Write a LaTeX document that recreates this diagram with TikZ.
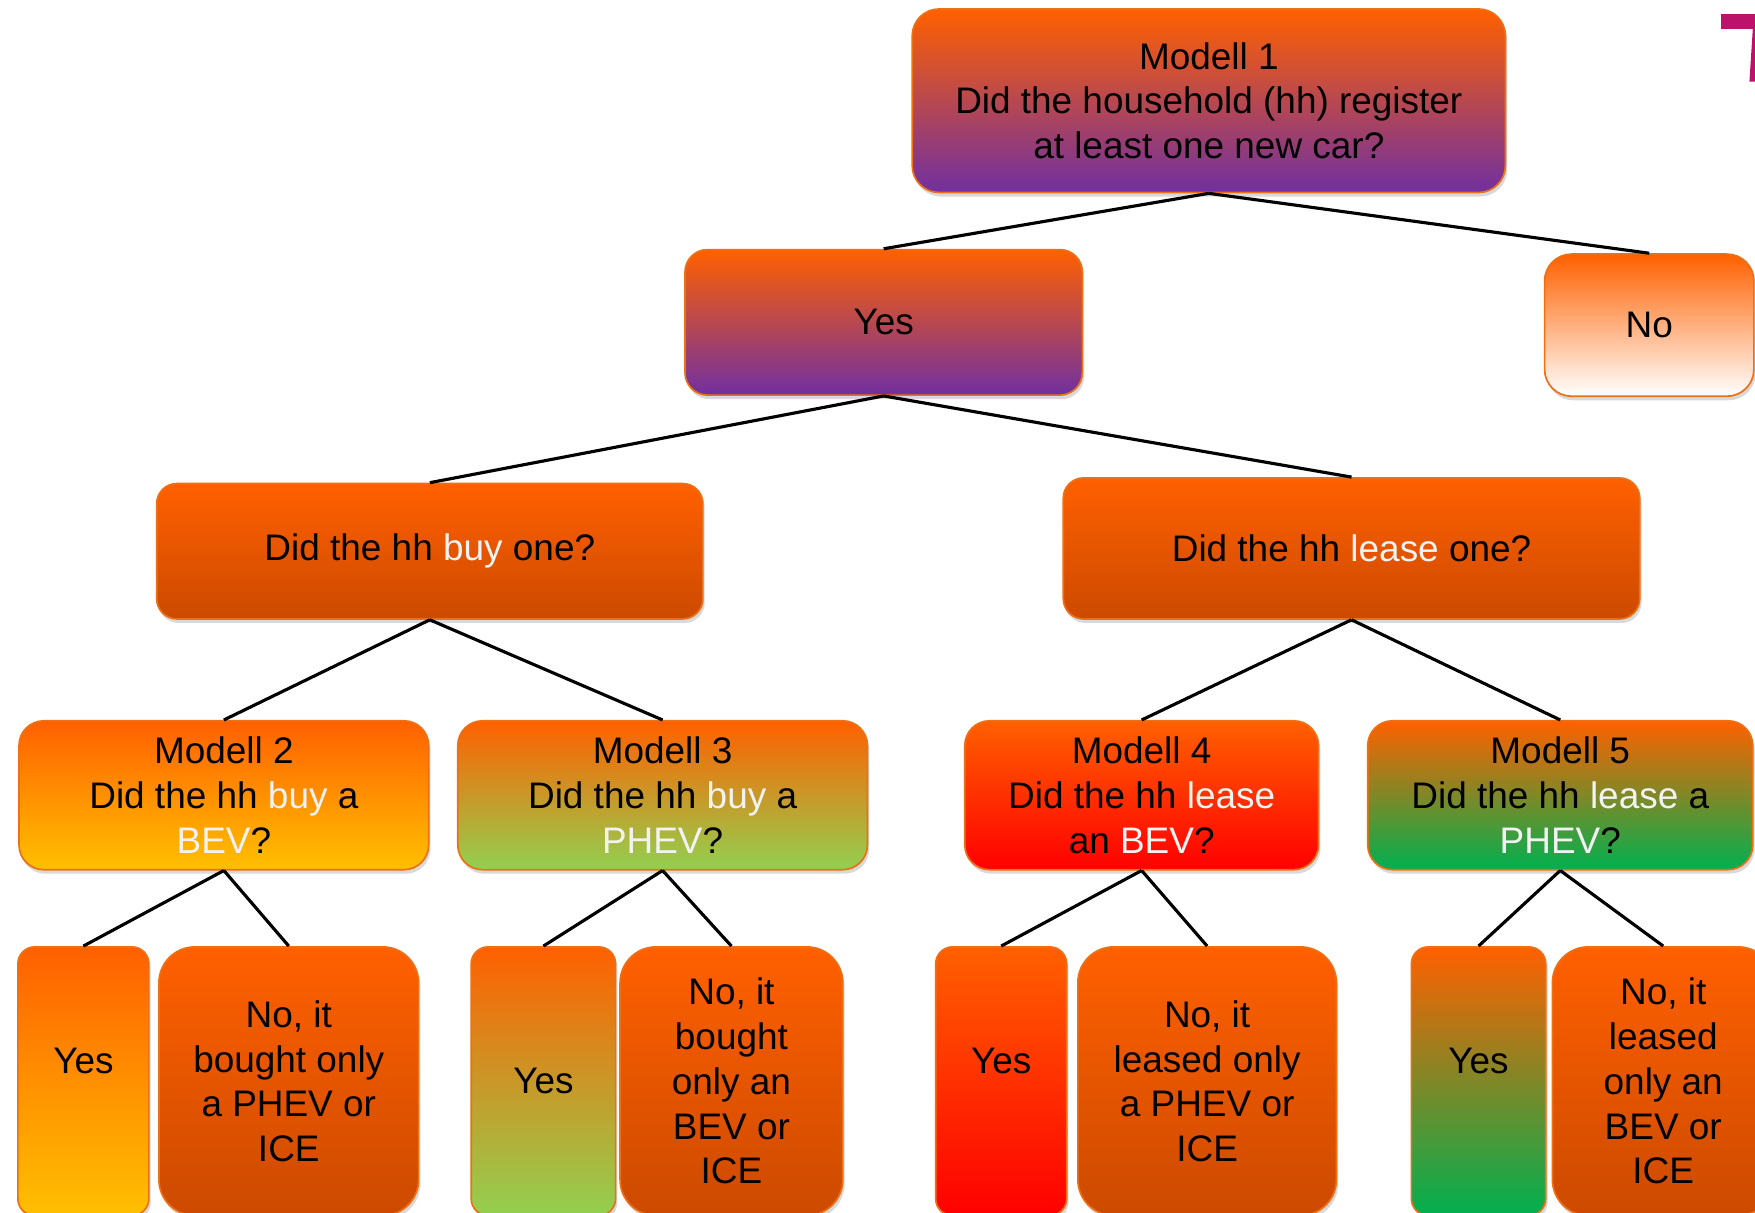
\documentclass[tikz,border=0pt]{standalone}
\usepackage{fontspec}
\setmainfont{Liberation Sans}
\usetikzlibrary{shadows}
\definecolor{org}{RGB}{255,96,0}
\definecolor{dorg}{RGB}{204,74,0}
\definecolor{bord}{RGB}{238,112,20}
\definecolor{purp}{RGB}{112,48,160}
\definecolor{pmid}{RGB}{195,75,70}
\definecolor{gold}{RGB}{255,192,0}
\definecolor{lgrn}{RGB}{146,208,80}
\definecolor{grn}{RGB}{0,176,80}
\definecolor{rd}{RGB}{255,0,0}
\definecolor{wt}{RGB}{242,242,242}
\definecolor{mag}{RGB}{188,18,108}
\begin{document}
\begin{tikzpicture}[x=0.5pt,y=-0.5pt,
  bx/.style={draw=bord, line width=0.75pt, align=center, inner sep=0pt,
    font=\fontsize{16.5}{20}\selectfont,
    drop shadow={opacity=0.3, shadow xshift=0.8pt, shadow yshift=-1.8pt}},
  purpbox/.style={bx, top color=org, middle color=pmid, bottom color=purp},
  darkbox/.style={bx, top color=org, bottom color=dorg},
  leaf/.style={minimum height=120pt},
  upyes/.style={text depth=18pt},
  cn/.style={line width=1.4pt, black},
]
\useasboundingbox (0,0) rectangle (1568,1083);
\clip (0,0) rectangle (1568,1083);

% top glyph
\fill[mag] (1538,12.5) rectangle (1572,26);
\fill[mag] (1566,26) -- (1580,26) -- (1570,73) -- (1563,73) -- cycle;

% level 0-1
\node[purpbox, minimum width=265pt, minimum height=82pt, rounded corners=12pt] (m1) at (1080,90)
  {Modell 1\\Did the household (hh) register\\at least one new car?};
\node[purpbox, minimum width=177.5pt, minimum height=65pt, rounded corners=10pt] (yes) at (789.5,288) {Yes};
\node[bx, top color=org, bottom color=white, minimum width=93.5pt, minimum height=63.5pt, rounded corners=12pt] (no) at (1473.5,290.5) {No};

% level 2
\node[darkbox, minimum width=244pt, minimum height=60.5pt, rounded corners=9pt] (buy) at (384,492.5)
  {Did the hh \textcolor{wt}{buy} one?};
\node[darkbox, minimum width=257.5pt, minimum height=63pt, rounded corners=9pt] (lease) at (1207.5,490)
  {Did the hh \textcolor{wt}{lease} one?};

% level 3
\node[bx, top color=org, bottom color=gold, minimum width=183pt, minimum height=66.5pt, rounded corners=11pt] (m2) at (200,710.5)
  {Modell 2\\Did the hh \textcolor{wt}{buy} a\\\textcolor{wt}{BEV}?};
\node[bx, top color=org, bottom color=lgrn, minimum width=183pt, minimum height=66.5pt, rounded corners=11pt] (m3) at (592,710.5)
  {Modell 3\\Did the hh \textcolor{wt}{buy} a\\\textcolor{wt}{PHEV}?};
\node[bx, top color=org, bottom color=rd, minimum width=158pt, minimum height=66.5pt, rounded corners=11pt] (m4) at (1020,710.5)
  {Modell 4\\Did the hh \textcolor{wt}{lease}\\an \textcolor{wt}{BEV}?};
\node[bx, top color=org, bottom color=grn, minimum width=172pt, minimum height=66.5pt, rounded corners=11pt] (m5) at (1394,710.5)
  {Modell 5\\Did the hh \textcolor{wt}{lease} a\\\textcolor{wt}{PHEV}?};

% leaves
\node[bx, leaf, upyes, top color=org, bottom color=gold, minimum width=58.5pt, rounded corners=7.5pt] (y2) at (74.5,966) {Yes};
\node[darkbox, leaf, minimum width=116pt, rounded corners=16pt] (n2) at (258,966)
  {No, it\\bought only\\a PHEV or\\ICE};
\node[bx, leaf, top color=org, bottom color=lgrn, minimum width=64.5pt, rounded corners=7.5pt] (y3) at (485.5,966) {Yes};
\node[darkbox, leaf, minimum width=99.5pt, rounded corners=16pt] (n3) at (653.5,966)
  {No, it\\bought\\only an\\BEV or\\ICE};
\node[bx, leaf, upyes, top color=org, bottom color=rd, minimum width=58.5pt, rounded corners=7.5pt] (y4) at (894.5,966) {Yes};
\node[darkbox, leaf, minimum width=115.5pt, rounded corners=16pt] (n4) at (1078.5,966)
  {No, it\\leased only\\a PHEV or\\ICE};
\node[bx, leaf, upyes, top color=org, bottom color=grn, minimum width=60pt, rounded corners=7.5pt] (y5) at (1321,966) {Yes};
\node[darkbox, leaf, minimum width=99pt, rounded corners=16pt] (n5) at (1486,966)
  {No, it\\leased\\only an\\BEV or\\ICE};

% connectors
\draw[cn] (m1.south) -- (yes.north);
\draw[cn] (m1.south) -- (no.north);
\draw[cn] (yes.south) -- (buy.north);
\draw[cn] (yes.south) -- (lease.north);
\draw[cn] (buy.south) -- (m2.north);
\draw[cn] (buy.south) -- (m3.north);
\draw[cn] (lease.south) -- (m4.north);
\draw[cn] (lease.south) -- (m5.north);
\draw[cn] (m2.south) -- (y2.north);
\draw[cn] (m2.south) -- (n2.north);
\draw[cn] (m3.south) -- (y3.north);
\draw[cn] (m3.south) -- (n3.north);
\draw[cn] (m4.south) -- (y4.north);
\draw[cn] (m4.south) -- (n4.north);
\draw[cn] (m5.south) -- (y5.north);
\draw[cn] (m5.south) -- (n5.north);
\end{tikzpicture}
\end{document}
